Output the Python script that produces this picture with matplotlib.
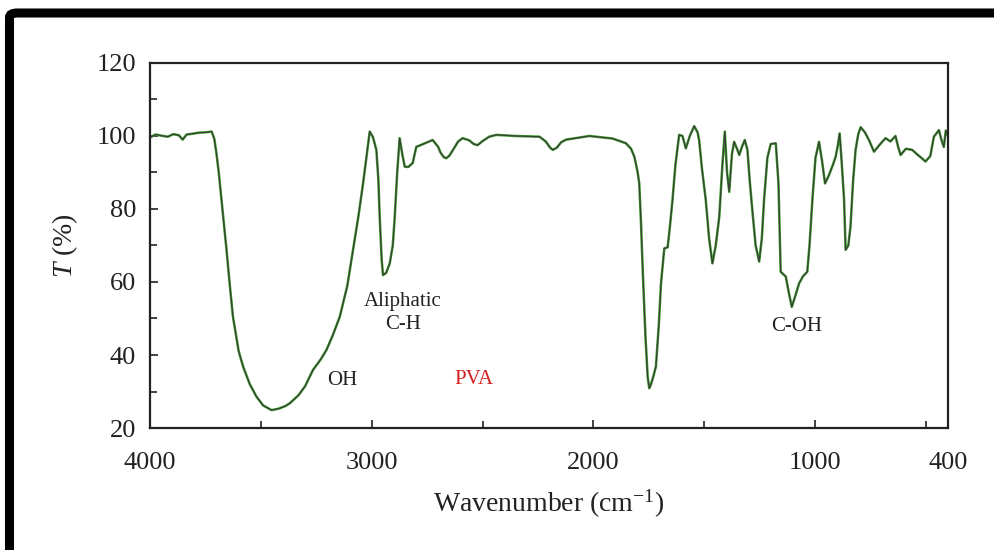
import matplotlib
matplotlib.use('Agg')
import matplotlib.pyplot as plt
from matplotlib.patches import FancyBboxPatch

plt.rcParams['font.family'] = ['Liberation Serif', 'DejaVu Serif']
plt.rcParams['mathtext.fontset'] = 'custom'
plt.rcParams['mathtext.rm'] = 'Liberation Serif'
plt.rcParams['mathtext.it'] = 'Liberation Serif:italic'

# FTIR spectrum of PVA
wavenumber = [4000, 3975, 3950, 3920, 3895, 3870, 3853, 3835, 3810, 3780, 3750, 3722,
              3710, 3700, 3690, 3680, 3670, 3655, 3640, 3626, 3600, 3580, 3550, 3520,
              3490, 3452, 3420, 3390, 3369, 3330, 3300, 3265, 3230, 3204, 3175, 3144,
              3110, 3084, 3060, 3039, 3020, 3009, 2995, 2979, 2970, 2964, 2955, 2949,
              2935, 2919, 2905, 2896, 2885, 2874, 2862, 2851, 2835, 2815, 2799, 2780,
              2760, 2725, 2700, 2690, 2675, 2664, 2650, 2630, 2610, 2590, 2560, 2540,
              2522, 2500, 2470, 2438, 2350, 2243, 2215, 2195, 2183, 2165, 2145, 2123,
              2018, 1913, 1853, 1830, 1815, 1800, 1793, 1785, 1778, 1765, 1755, 1748,
              1740, 1730, 1718, 1705, 1695, 1680, 1665, 1655, 1643, 1630, 1613, 1598,
              1583, 1565, 1545, 1530, 1523, 1510, 1493, 1478, 1463, 1448, 1432, 1418,
              1407, 1397, 1387, 1375, 1365, 1352, 1342, 1330, 1317, 1305, 1295, 1283,
              1268, 1252, 1240, 1230, 1215, 1200, 1177, 1165, 1155, 1132, 1118, 1105,
              1090, 1072, 1055, 1035, 1025, 1012, 998, 982, 968, 955, 937, 920, 907,
              897, 889, 880, 869, 862, 850, 840, 828, 817, 805, 794, 775, 757, 734,
              710, 682, 660, 637, 625, 614, 590, 562, 540, 520, 502, 480, 464, 441,
              430, 419, 410, 400]
transmittance = [99.6, 100.4, 100.1, 99.8, 100.5, 100.2, 99.0, 100.4, 100.6, 100.9, 101.0, 101.2,
                 99.2, 95.0, 90.0, 84.0, 78.0, 68.8, 59.0, 50.5, 41.0, 36.8, 32.0, 28.6,
                 26.2, 24.9, 25.3, 26.0, 26.8, 29.0, 31.5, 35.9, 38.8, 41.4, 45.5, 50.5,
                 59.0, 68.8, 78.0, 87.0, 96.0, 101.2, 99.8, 96.2, 88.0, 77.9, 66.0, 61.9,
                 62.5, 65.0, 70.0, 77.9, 90.0, 99.4, 95.0, 91.6, 91.5, 92.6, 97.0, 97.5,
                 98.0, 98.9, 97.0, 95.5, 94.2, 93.9, 94.6, 96.5, 98.5, 99.4, 98.8, 97.8,
                 97.5, 98.6, 99.8, 100.3, 100.0, 99.8, 98.5, 96.8, 96.2, 96.8, 98.3, 99.0,
                 100.0, 99.3, 98.0, 96.5, 94.3, 90.0, 87.0, 76.0, 64.2, 45.0, 34.0, 30.9,
                 32.0, 34.0, 36.8, 48.0, 59.6, 69.2, 69.5, 75.0, 82.5, 92.0, 100.3, 100.0,
                 96.6, 100.0, 102.7, 101.0, 98.9, 91.0, 82.5, 72.0, 65.1, 70.0, 77.9, 92.0,
                 101.2, 90.0, 84.7, 95.0, 98.4, 96.5, 94.8, 97.0, 98.9, 96.2, 88.0, 79.7,
                 70.0, 65.6, 72.0, 82.5, 94.0, 97.8, 98.0, 87.0, 62.8, 61.5, 57.0, 53.2,
                 56.0, 59.6, 61.5, 62.8, 70.0, 82.5, 94.0, 98.4, 93.0, 87.0, 89.3, 92.0, 94.3,
                 97.5, 100.7, 93.0, 82.5, 68.8, 70.0, 75.2, 88.0, 96.2, 100.5, 102.4, 101.0, 98.9, 95.7,
                 97.5, 99.4, 98.5, 100.0, 97.0, 94.8, 96.5, 96.2, 95.0, 94.0, 93.0, 94.5, 99.8, 101.6,
                 99.0, 97.0, 101.5, 100.0]

labels = ['Aliphatic\nC-H', 'OH', 'PVA', 'C-OH']
label_x = [2860, 3135, 2541, 1081]
label_y = [51.5, 32.9, 33.2, 47.7]
label_colors = ['#222222', '#222222', '#d42020', '#222222']

fig = plt.figure(figsize=(9.95, 5.5), dpi=100)
ax = fig.add_axes([0.1508, 0.2218, 0.802, 0.6637])

ax.plot(wavenumber, transmittance, color='#3a9a2a', lw=1.8)
ax.plot(wavenumber, transmittance, color='#3a3a3a', lw=0.8)

ax.set_xlim(4000, 400)
ax.set_ylim(20, 120)
ax.set_xticks([4000, 3000, 2000, 1000, 400])
ax.set_xticks([3500, 2500, 1500, 500], minor=True)
ax.set_yticks([20, 40, 60, 80, 100, 120])
ax.set_yticks([30, 50, 70, 90, 110], minor=True)
ax.tick_params(which='both', direction='in', width=1.2, labelsize=19, colors='#222222')
ax.tick_params(which='major', length=6)
ax.tick_params(which='minor', length=5)
ax.tick_params(axis='y', pad=10)
ax.tick_params(axis='x', pad=17)
for s in ax.spines.values():
    s.set_linewidth(1.6)
    s.set_color('#222222')

ax.set_xlabel('Wavenumber (cm$^{-1}$)', fontsize=20, color='#222222', labelpad=10)
ax.set_ylabel('$T$ (%)', fontsize=20, color='#222222', labelpad=12)

for txt, x, y, c in zip(labels, label_x, label_y, label_colors):
    ax.text(x, y, txt, color=c, fontsize=15, ha='center', va='center', linespacing=1.3)

# thick black frame (cropped at right and bottom)
frame = FancyBboxPatch((9.5 / 995, -0.05), 1.2, 1.05 - 13 / 550,
                       boxstyle='round,pad=0,rounding_size=0.008',
                       transform=fig.transFigure, fill=False,
                       edgecolor='black', linewidth=6.5, clip_on=False)
fig.patches.append(frame)

fig.savefig('out.png', dpi=100)
